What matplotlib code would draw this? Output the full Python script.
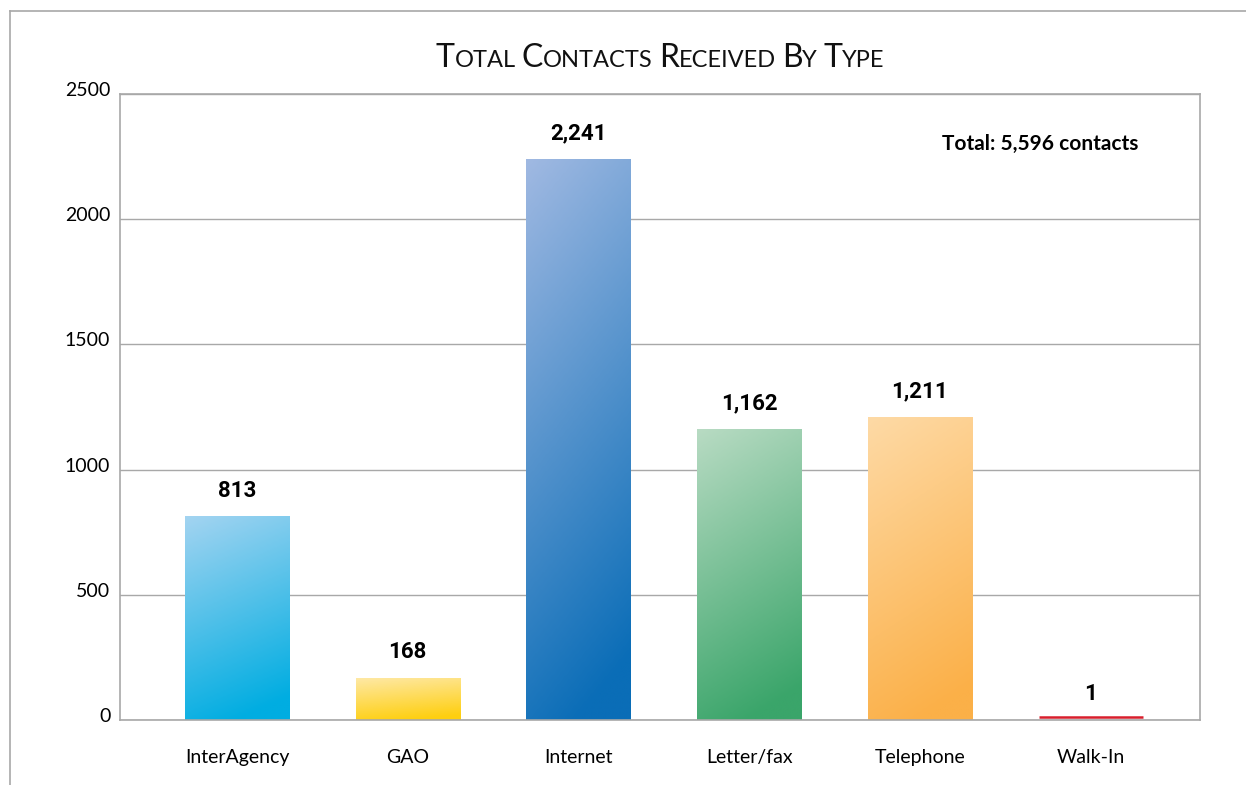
import numpy as np
import matplotlib
matplotlib.use("Agg")
import matplotlib.pyplot as plt
from matplotlib.colors import LinearSegmentedColormap
from matplotlib.lines import Line2D
from matplotlib.transforms import offset_copy

categories = ["InterAgency", "GAO", "Internet", "Letter/fax", "Telephone", "Walk-In"]
contacts = [813, 168, 2241, 1162, 1211, 1]
value_labels = ["813", "168", "2,241", "1,162", "1,211", "1"]
total_text = "Total: 5,596 contacts"
title_parts = [("T", "OTAL"), ("C", "ONTACTS"), ("R", "ECEIVED"), ("B", "Y"), ("T", "YPE")]
yticks = [0, 500, 1000, 1500, 2000, 2500]

# (top-left light, bottom-right dark)
bar_colors = [("#a3d4f1", "#00ade1"),
              ("#fee9a8", "#fecf10"),
              ("#a0b9e2", "#0a6db7"),
              ("#b8dbc3", "#3aa56a"),
              ("#fedaa6", "#fbb048"),
              ("#f08a8a", "#d81e2c")]

GRAY = "#a8a8a8"
plain = ["Lato", "DejaVu Sans"]
narrow = ["Roboto", "DejaVu Sans"]

fig = plt.figure(figsize=(12.46, 7.85), dpi=100)
ax = fig.add_axes([120 / 1246, 1 - 720 / 785, 1080 / 1246, 626 / 785])

# outer frame (top + left only)
fig.add_artist(Line2D([10 / 1246, 1], [1 - 11 / 785] * 2, color=GRAY, lw=1.2))
fig.add_artist(Line2D([10 / 1246] * 2, [0, 1 - 11 / 785], color=GRAY, lw=1.2))

x = np.arange(len(categories))
bars = ax.bar(x, contacts, width=0.61, color="none", edgecolor="none", zorder=2)

# gradient fill (mostly vertical, a little diagonal), clipped to each bar
gy, gx = np.mgrid[0:1:200j, 0:1:60j]
grad = np.clip(0.9 * gy + 0.2 * gx, 0, 1)
for b, (c0, c1) in zip(bars, bar_colors):
    cmap = LinearSegmentedColormap.from_list("g", [c0, c1])
    x0, w, h = b.get_x(), b.get_width(), b.get_height()
    im = ax.imshow(grad, cmap=cmap, extent=[x0, x0 + w, 0, h], origin="upper",
                   aspect="auto", interpolation="bilinear", zorder=2)
    im.set_clip_path(b)
    if h < 10:
        # too thin to see: draw it as a line just above the axis
        ln = ax.plot([x0, x0 + w], [h, h], color=c1, lw=1.8, zorder=3,
                     solid_capstyle="butt")[0]
        ln.set_transform(offset_copy(ax.transData, fig=fig, x=0, y=2.5, units="dots"))

for xi, v, lab in zip(x, contacts, value_labels):
    ax.annotate(lab, (xi, v), xytext=(0, 14), textcoords="offset points",
                ha="center", va="baseline", fontsize=16, fontweight="bold",
                family=narrow)

ax.set_xlim(-0.685, 5.64)
ax.set_ylim(0, 2500)
ax.set_yticks(yticks)
ax.set_xticks(x)
ax.set_xticklabels(categories, family=plain, fontsize=14)
ax.set_yticklabels([str(t) for t in yticks], family=plain, fontsize=14)
ax.tick_params(axis="both", length=0)
ax.tick_params(axis="y", pad=7)
ax.tick_params(axis="x", pad=21)
for lbl in ax.get_yticklabels():
    lbl.set_transform(offset_copy(lbl.get_transform(), fig=fig, x=0, y=5, units="dots"))
ax.grid(axis="y", color=GRAY, lw=1, zorder=0)
ax.set_axisbelow(True)
for s in ax.spines.values():
    s.set_color(GRAY)
    s.set_linewidth(1.2)

ax.text(0.852, 0.92, total_text, transform=ax.transAxes, ha="center", va="center",
        fontsize=15, fontweight="bold", family=["Lato", "DejaVu Sans"])

# small-caps title, built piece by piece
fig.canvas.draw()
r = fig.canvas.get_renderer()
big, small = 23, 17
def w_of(s, size):
    t = fig.text(0, 0, s, fontsize=size, family=plain)
    ww = t.get_window_extent(r).width
    t.remove()
    return ww
space = w_of("x x", small) - w_of("xx", small)
pieces = []
for i, (cap, rest) in enumerate(title_parts):
    pieces.append((cap, big))
    pieces.append((rest.upper(), small))
    if i < len(title_parts) - 1:
        pieces.append((None, space))
total_w = sum(p[1] if p[0] is None else w_of(p[0], p[1]) for p in pieces)
xpos = 660 - total_w / 2
ybase = 785 - 67
for s, size in pieces:
    if s is None:
        xpos += size
        continue
    fig.text(xpos / 1246, ybase / 785, s, fontsize=size, family=plain,
             ha="left", va="baseline", color="#111111")
    xpos += w_of(s, size)

fig.savefig("out.png", dpi=100)
